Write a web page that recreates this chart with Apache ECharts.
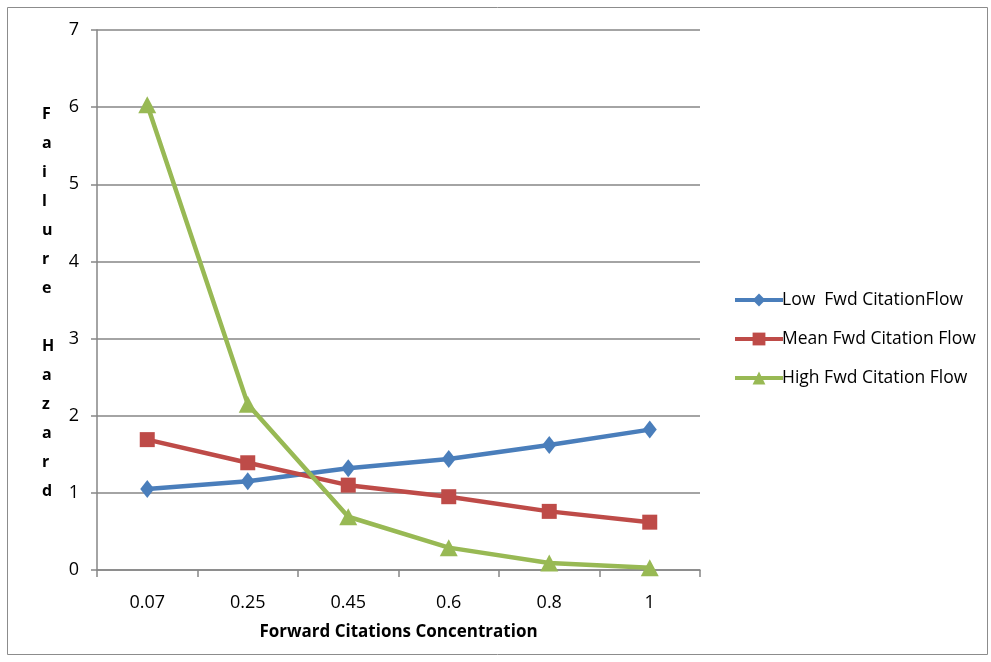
<!DOCTYPE html>
<html><head><meta charset="utf-8">
<script src="https://cdn.jsdelivr.net/npm/echarts@6/dist/echarts.min.js"></script>
<style>html,body{margin:0;padding:0;background:#fff}#c{width:991px;height:662px}</style>
</head><body><div id="c"></div>
<script>
const categories = ['0.07','0.25','0.45','0.6','0.8','1'];
const lowVals  = [1.05, 1.15, 1.32, 1.44, 1.62, 1.82];
const meanVals = [1.69, 1.39, 1.10, 0.95, 0.76, 0.62];
const highVals = [6.03, 2.15, 0.69, 0.29, 0.09, 0.03];
const seriesNames = ['Low  Fwd CitationFlow','Mean Fwd Citation Flow','High Fwd Citation Flow'];
const xTitle = 'Forward Citations Concentration';
const yTitle = 'F\na\ni\nl\nu\nr\ne\n\nH\na\nz\na\nr\nd';
const FONT = '"Open Sans", "Liberation Sans", sans-serif';

const chart = echarts.init(document.getElementById('c'));
function mk(name, data, color, symbol, size){
  return {name, type:'line', data, symbol, symbolSize:size, showSymbol:true,
    lineStyle:{color, width:4.5}, itemStyle:{color}, z:3, animation:false};
}
chart.setOption({
  animation:false,
  backgroundColor:'#fff',
  grid:{left:97, top:30, width:603, height:540, containLabel:false},
  graphic:[
    {type:'rect', shape:{x:7.5,y:7.5,width:980,height:647}, style:{fill:'none', stroke:'#8c8c8c', lineWidth:1}, z:-1},
    {type:'text', left:42, top:100, style:{text:yTitle, font:'bold 16px '+FONT, lineHeight:29, fill:'#000', align:'center'}}
  ],
  legend:{orient:'vertical', left:728, top:286, itemGap:21, itemWidth:48, itemHeight:16,
    lineStyle:{width:4},
    textStyle:{fontFamily:FONT, fontSize:17.5, lineHeight:18, color:'#000', padding:[0,0,0,-6]},
    data:seriesNames},
  xAxis:{type:'category', data:categories, boundaryGap:true,
    name:xTitle, nameLocation:'middle', nameGap:54,
    nameTextStyle:{fontFamily:FONT, fontWeight:'bold', fontSize:17, color:'#000'},
    axisLine:{lineStyle:{color:'#868686', width:1.5}},
    axisTick:{show:true, length:7, alignWithLabel:false, lineStyle:{color:'#868686', width:1.5}},
    axisLabel:{fontFamily:FONT, fontSize:18, color:'#000', margin:24},
    splitLine:{show:false}},
  yAxis:{type:'value', min:0, max:7, interval:1,
    axisLine:{show:true, lineStyle:{color:'#868686', width:1.5}},
    axisTick:{show:true, length:6, lineStyle:{color:'#868686', width:1.5}},
    axisLabel:{fontFamily:FONT, fontSize:18, color:'#000', margin:18},
    splitLine:{show:true, lineStyle:{color:'#868686', width:1.5}}},
  series:[
    mk(seriesNames[0], lowVals, '#4a7ebb', 'diamond', [14,18]),
    mk(seriesNames[1], meanVals, '#be4b48', 'rect', 15),
    mk(seriesNames[2], highVals, '#98b954', 'triangle', [18,17])
  ]
});
</script></body></html>
